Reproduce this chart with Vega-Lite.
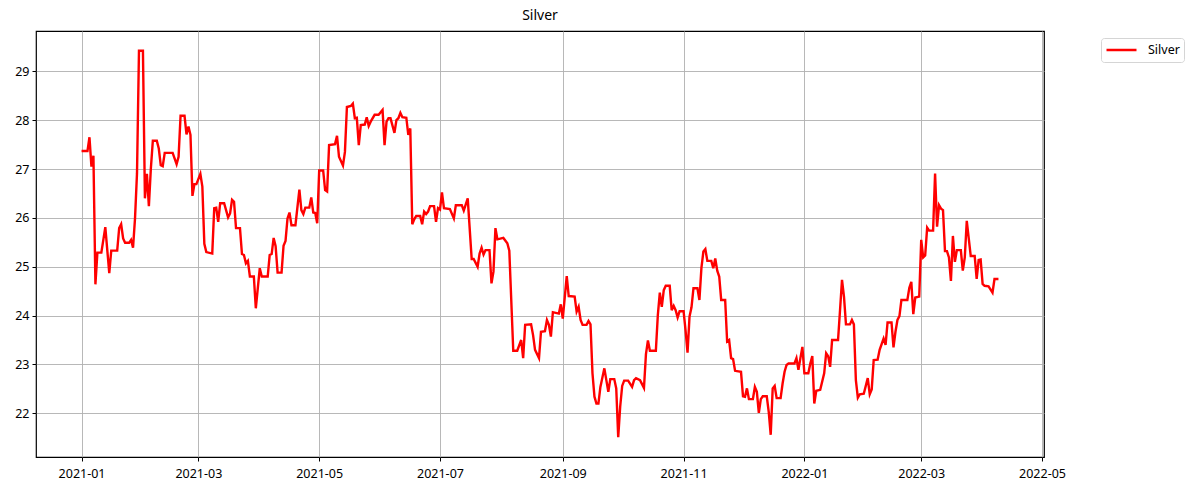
{
  "$schema": "https://vega.github.io/schema/vega-lite/v6.json",
  "width": 1008,
  "height": 426,
  "autosize": {"type": "none"},
  "padding": {"left": 36, "top": 31, "right": 149, "bottom": 33},
  "background": "white",
  "title": {"text": "Silver", "fontSize": 14, "fontWeight": "normal", "font": "Noto Sans", "color": "#000000", "anchor": "middle", "offset": 8},
  "config": {
    "view": {"stroke": "#000000", "strokeWidth": 1.2},
    "axis": {
      "domain": false,
      "grid": true,
      "gridColor": "#b0b0b0",
      "gridWidth": 0.9,
      "tickColor": "#000000",
      "tickSize": 4,
      "tickWidth": 1,
      "labelFont": "Noto Sans",
      "labelFontSize": 12.5,
      "labelColor": "#000000",
      "labelPadding": 3,
      "title": null
    },
    "axisX": {"labelPadding": 6},
    "legend": {
      "labelFont": "Noto Sans",
      "labelFontSize": 12.5,
      "labelColor": "#000000"
    }
  },
  "data": {
    "values": [
      {"date": "2021-01-01", "price": 27.37},
      {"date": "2021-01-04", "price": 27.37},
      {"date": "2021-01-05", "price": 27.65},
      {"date": "2021-01-06", "price": 27.05},
      {"date": "2021-01-07", "price": 27.27},
      {"date": "2021-01-08", "price": 24.64},
      {"date": "2021-01-09", "price": 25.29},
      {"date": "2021-01-11", "price": 25.29},
      {"date": "2021-01-13", "price": 25.81},
      {"date": "2021-01-15", "price": 24.87},
      {"date": "2021-01-16", "price": 25.33},
      {"date": "2021-01-19", "price": 25.33},
      {"date": "2021-01-20", "price": 25.79},
      {"date": "2021-01-21", "price": 25.87},
      {"date": "2021-01-22", "price": 25.58},
      {"date": "2021-01-23", "price": 25.49},
      {"date": "2021-01-25", "price": 25.49},
      {"date": "2021-01-26", "price": 25.55},
      {"date": "2021-01-27", "price": 25.39},
      {"date": "2021-01-28", "price": 25.99},
      {"date": "2021-01-29", "price": 26.91},
      {"date": "2021-01-30", "price": 29.42},
      {"date": "2021-02-01", "price": 29.42},
      {"date": "2021-02-02", "price": 26.40},
      {"date": "2021-02-03", "price": 26.90},
      {"date": "2021-02-04", "price": 26.24},
      {"date": "2021-02-05", "price": 27.01},
      {"date": "2021-02-06", "price": 27.58},
      {"date": "2021-02-08", "price": 27.58},
      {"date": "2021-02-09", "price": 27.42},
      {"date": "2021-02-10", "price": 27.08},
      {"date": "2021-02-11", "price": 27.06},
      {"date": "2021-02-12", "price": 27.33},
      {"date": "2021-02-16", "price": 27.33},
      {"date": "2021-02-18", "price": 27.10},
      {"date": "2021-02-19", "price": 27.25},
      {"date": "2021-02-20", "price": 28.09},
      {"date": "2021-02-22", "price": 28.09},
      {"date": "2021-02-23", "price": 27.71},
      {"date": "2021-02-24", "price": 27.87},
      {"date": "2021-02-25", "price": 27.70},
      {"date": "2021-02-26", "price": 26.45},
      {"date": "2021-02-27", "price": 26.69},
      {"date": "2021-02-28", "price": 26.69},
      {"date": "2021-03-02", "price": 26.90},
      {"date": "2021-03-03", "price": 26.64},
      {"date": "2021-03-04", "price": 25.47},
      {"date": "2021-03-05", "price": 25.30},
      {"date": "2021-03-08", "price": 25.27},
      {"date": "2021-03-09", "price": 26.20},
      {"date": "2021-03-10", "price": 26.21},
      {"date": "2021-03-11", "price": 25.92},
      {"date": "2021-03-12", "price": 26.30},
      {"date": "2021-03-14", "price": 26.30},
      {"date": "2021-03-16", "price": 26.01},
      {"date": "2021-03-17", "price": 26.09},
      {"date": "2021-03-18", "price": 26.37},
      {"date": "2021-03-19", "price": 26.33},
      {"date": "2021-03-20", "price": 25.79},
      {"date": "2021-03-22", "price": 25.79},
      {"date": "2021-03-23", "price": 25.26},
      {"date": "2021-03-24", "price": 25.24},
      {"date": "2021-03-25", "price": 25.07},
      {"date": "2021-03-26", "price": 25.12},
      {"date": "2021-03-27", "price": 24.80},
      {"date": "2021-03-29", "price": 24.80},
      {"date": "2021-03-30", "price": 24.15},
      {"date": "2021-04-01", "price": 24.97},
      {"date": "2021-04-02", "price": 24.80},
      {"date": "2021-04-05", "price": 24.80},
      {"date": "2021-04-06", "price": 25.24},
      {"date": "2021-04-07", "price": 25.26},
      {"date": "2021-04-08", "price": 25.59},
      {"date": "2021-04-09", "price": 25.42},
      {"date": "2021-04-10", "price": 24.88},
      {"date": "2021-04-12", "price": 24.88},
      {"date": "2021-04-13", "price": 25.43},
      {"date": "2021-04-14", "price": 25.53},
      {"date": "2021-04-15", "price": 25.99},
      {"date": "2021-04-16", "price": 26.11},
      {"date": "2021-04-17", "price": 25.85},
      {"date": "2021-04-19", "price": 25.85},
      {"date": "2021-04-21", "price": 26.58},
      {"date": "2021-04-22", "price": 26.16},
      {"date": "2021-04-23", "price": 26.08},
      {"date": "2021-04-24", "price": 26.21},
      {"date": "2021-04-26", "price": 26.21},
      {"date": "2021-04-27", "price": 26.42},
      {"date": "2021-04-28", "price": 26.11},
      {"date": "2021-04-29", "price": 26.10},
      {"date": "2021-04-30", "price": 25.89},
      {"date": "2021-05-01", "price": 26.97},
      {"date": "2021-05-03", "price": 26.97},
      {"date": "2021-05-04", "price": 26.57},
      {"date": "2021-05-05", "price": 26.54},
      {"date": "2021-05-06", "price": 27.49},
      {"date": "2021-05-09", "price": 27.51},
      {"date": "2021-05-10", "price": 27.68},
      {"date": "2021-05-11", "price": 27.25},
      {"date": "2021-05-13", "price": 27.07},
      {"date": "2021-05-14", "price": 27.35},
      {"date": "2021-05-15", "price": 28.27},
      {"date": "2021-05-17", "price": 28.29},
      {"date": "2021-05-18", "price": 28.34},
      {"date": "2021-05-19", "price": 28.04},
      {"date": "2021-05-20", "price": 28.05},
      {"date": "2021-05-21", "price": 27.49},
      {"date": "2021-05-22", "price": 27.90},
      {"date": "2021-05-24", "price": 27.91},
      {"date": "2021-05-25", "price": 28.06},
      {"date": "2021-05-26", "price": 27.88},
      {"date": "2021-05-27", "price": 27.97},
      {"date": "2021-05-29", "price": 28.11},
      {"date": "2021-05-31", "price": 28.11},
      {"date": "2021-06-02", "price": 28.21},
      {"date": "2021-06-03", "price": 27.49},
      {"date": "2021-06-04", "price": 27.97},
      {"date": "2021-06-05", "price": 28.04},
      {"date": "2021-06-06", "price": 28.04},
      {"date": "2021-06-08", "price": 27.74},
      {"date": "2021-06-09", "price": 28.00},
      {"date": "2021-06-10", "price": 28.04},
      {"date": "2021-06-11", "price": 28.15},
      {"date": "2021-06-12", "price": 28.06},
      {"date": "2021-06-14", "price": 28.05},
      {"date": "2021-06-15", "price": 27.70},
      {"date": "2021-06-16", "price": 27.83},
      {"date": "2021-06-17", "price": 25.87},
      {"date": "2021-06-18", "price": 25.97},
      {"date": "2021-06-19", "price": 26.04},
      {"date": "2021-06-21", "price": 26.04},
      {"date": "2021-06-22", "price": 25.87},
      {"date": "2021-06-23", "price": 26.13},
      {"date": "2021-06-24", "price": 26.08},
      {"date": "2021-06-25", "price": 26.13},
      {"date": "2021-06-26", "price": 26.24},
      {"date": "2021-06-28", "price": 26.24},
      {"date": "2021-06-29", "price": 25.92},
      {"date": "2021-06-30", "price": 26.20},
      {"date": "2021-07-01", "price": 26.17},
      {"date": "2021-07-02", "price": 26.52},
      {"date": "2021-07-03", "price": 26.20},
      {"date": "2021-07-06", "price": 26.18},
      {"date": "2021-07-08", "price": 25.99},
      {"date": "2021-07-09", "price": 26.26},
      {"date": "2021-07-12", "price": 26.26},
      {"date": "2021-07-13", "price": 26.15},
      {"date": "2021-07-15", "price": 26.40},
      {"date": "2021-07-17", "price": 25.16},
      {"date": "2021-07-18", "price": 25.16},
      {"date": "2021-07-20", "price": 25.00},
      {"date": "2021-07-21", "price": 25.27},
      {"date": "2021-07-22", "price": 25.39},
      {"date": "2021-07-23", "price": 25.25},
      {"date": "2021-07-24", "price": 25.34},
      {"date": "2021-07-26", "price": 25.34},
      {"date": "2021-07-27", "price": 24.66},
      {"date": "2021-07-28", "price": 24.90},
      {"date": "2021-07-29", "price": 25.79},
      {"date": "2021-07-30", "price": 25.56},
      {"date": "2021-08-02", "price": 25.59},
      {"date": "2021-08-04", "price": 25.48},
      {"date": "2021-08-05", "price": 25.33},
      {"date": "2021-08-07", "price": 23.28},
      {"date": "2021-08-09", "price": 23.28},
      {"date": "2021-08-11", "price": 23.50},
      {"date": "2021-08-12", "price": 23.13},
      {"date": "2021-08-13", "price": 23.81},
      {"date": "2021-08-16", "price": 23.82},
      {"date": "2021-08-17", "price": 23.60},
      {"date": "2021-08-18", "price": 23.30},
      {"date": "2021-08-20", "price": 23.13},
      {"date": "2021-08-21", "price": 23.67},
      {"date": "2021-08-23", "price": 23.68},
      {"date": "2021-08-24", "price": 23.91},
      {"date": "2021-08-25", "price": 23.81},
      {"date": "2021-08-26", "price": 23.57},
      {"date": "2021-08-27", "price": 24.07},
      {"date": "2021-08-30", "price": 24.04},
      {"date": "2021-08-31", "price": 24.23},
      {"date": "2021-09-01", "price": 23.94},
      {"date": "2021-09-03", "price": 24.81},
      {"date": "2021-09-04", "price": 24.40},
      {"date": "2021-09-07", "price": 24.39},
      {"date": "2021-09-08", "price": 24.08},
      {"date": "2021-09-09", "price": 24.18},
      {"date": "2021-09-10", "price": 23.91},
      {"date": "2021-09-11", "price": 23.81},
      {"date": "2021-09-13", "price": 23.81},
      {"date": "2021-09-14", "price": 23.89},
      {"date": "2021-09-15", "price": 23.82},
      {"date": "2021-09-16", "price": 22.82},
      {"date": "2021-09-17", "price": 22.34},
      {"date": "2021-09-18", "price": 22.20},
      {"date": "2021-09-19", "price": 22.20},
      {"date": "2021-09-20", "price": 22.54},
      {"date": "2021-09-22", "price": 22.92},
      {"date": "2021-09-23", "price": 22.68},
      {"date": "2021-09-24", "price": 22.44},
      {"date": "2021-09-25", "price": 22.70},
      {"date": "2021-09-27", "price": 22.70},
      {"date": "2021-09-28", "price": 22.51},
      {"date": "2021-09-29", "price": 21.51},
      {"date": "2021-09-30", "price": 22.14},
      {"date": "2021-10-01", "price": 22.56},
      {"date": "2021-10-02", "price": 22.67},
      {"date": "2021-10-04", "price": 22.67},
      {"date": "2021-10-06", "price": 22.54},
      {"date": "2021-10-07", "price": 22.68},
      {"date": "2021-10-08", "price": 22.72},
      {"date": "2021-10-10", "price": 22.68},
      {"date": "2021-10-12", "price": 22.52},
      {"date": "2021-10-13", "price": 23.21},
      {"date": "2021-10-14", "price": 23.49},
      {"date": "2021-10-15", "price": 23.28},
      {"date": "2021-10-18", "price": 23.28},
      {"date": "2021-10-19", "price": 24.01},
      {"date": "2021-10-20", "price": 24.47},
      {"date": "2021-10-21", "price": 24.18},
      {"date": "2021-10-22", "price": 24.52},
      {"date": "2021-10-23", "price": 24.61},
      {"date": "2021-10-25", "price": 24.61},
      {"date": "2021-10-26", "price": 24.11},
      {"date": "2021-10-27", "price": 24.20},
      {"date": "2021-10-28", "price": 24.11},
      {"date": "2021-10-29", "price": 23.96},
      {"date": "2021-10-30", "price": 24.09},
      {"date": "2021-11-01", "price": 24.09},
      {"date": "2021-11-02", "price": 23.70},
      {"date": "2021-11-03", "price": 23.24},
      {"date": "2021-11-04", "price": 23.98},
      {"date": "2021-11-05", "price": 24.17},
      {"date": "2021-11-06", "price": 24.56},
      {"date": "2021-11-08", "price": 24.56},
      {"date": "2021-11-09", "price": 24.32},
      {"date": "2021-11-10", "price": 24.97},
      {"date": "2021-11-11", "price": 25.31},
      {"date": "2021-11-12", "price": 25.36},
      {"date": "2021-11-13", "price": 25.12},
      {"date": "2021-11-15", "price": 25.12},
      {"date": "2021-11-16", "price": 24.97},
      {"date": "2021-11-17", "price": 25.17},
      {"date": "2021-11-18", "price": 24.92},
      {"date": "2021-11-19", "price": 24.80},
      {"date": "2021-11-20", "price": 24.32},
      {"date": "2021-11-22", "price": 24.32},
      {"date": "2021-11-23", "price": 23.47},
      {"date": "2021-11-24", "price": 23.50},
      {"date": "2021-11-25", "price": 23.13},
      {"date": "2021-11-26", "price": 23.11},
      {"date": "2021-11-27", "price": 22.87},
      {"date": "2021-11-30", "price": 22.85},
      {"date": "2021-12-01", "price": 22.35},
      {"date": "2021-12-02", "price": 22.34},
      {"date": "2021-12-03", "price": 22.51},
      {"date": "2021-12-04", "price": 22.29},
      {"date": "2021-12-06", "price": 22.29},
      {"date": "2021-12-07", "price": 22.54},
      {"date": "2021-12-08", "price": 22.44},
      {"date": "2021-12-09", "price": 22.01},
      {"date": "2021-12-10", "price": 22.29},
      {"date": "2021-12-11", "price": 22.35},
      {"date": "2021-12-13", "price": 22.35},
      {"date": "2021-12-14", "price": 22.03},
      {"date": "2021-12-15", "price": 21.56},
      {"date": "2021-12-16", "price": 22.51},
      {"date": "2021-12-17", "price": 22.56},
      {"date": "2021-12-18", "price": 22.31},
      {"date": "2021-12-20", "price": 22.31},
      {"date": "2021-12-21", "price": 22.61},
      {"date": "2021-12-22", "price": 22.85},
      {"date": "2021-12-23", "price": 22.99},
      {"date": "2021-12-24", "price": 23.02},
      {"date": "2021-12-27", "price": 23.02},
      {"date": "2021-12-28", "price": 23.13},
      {"date": "2021-12-29", "price": 22.89},
      {"date": "2021-12-30", "price": 23.13},
      {"date": "2021-12-31", "price": 23.36},
      {"date": "2022-01-01", "price": 22.82},
      {"date": "2022-01-03", "price": 22.82},
      {"date": "2022-01-04", "price": 23.02},
      {"date": "2022-01-05", "price": 23.17},
      {"date": "2022-01-06", "price": 22.20},
      {"date": "2022-01-07", "price": 22.46},
      {"date": "2022-01-09", "price": 22.48},
      {"date": "2022-01-11", "price": 22.82},
      {"date": "2022-01-12", "price": 23.23},
      {"date": "2022-01-13", "price": 23.17},
      {"date": "2022-01-14", "price": 22.95},
      {"date": "2022-01-15", "price": 23.50},
      {"date": "2022-01-18", "price": 23.50},
      {"date": "2022-01-19", "price": 24.11},
      {"date": "2022-01-20", "price": 24.73},
      {"date": "2022-01-21", "price": 24.39},
      {"date": "2022-01-22", "price": 23.82},
      {"date": "2022-01-24", "price": 23.82},
      {"date": "2022-01-25", "price": 23.91},
      {"date": "2022-01-26", "price": 23.82},
      {"date": "2022-01-27", "price": 22.68},
      {"date": "2022-01-28", "price": 22.32},
      {"date": "2022-01-29", "price": 22.39},
      {"date": "2022-01-31", "price": 22.40},
      {"date": "2022-02-02", "price": 22.72},
      {"date": "2022-02-03", "price": 22.39},
      {"date": "2022-02-04", "price": 22.49},
      {"date": "2022-02-05", "price": 23.09},
      {"date": "2022-02-07", "price": 23.10},
      {"date": "2022-02-08", "price": 23.30},
      {"date": "2022-02-10", "price": 23.53},
      {"date": "2022-02-11", "price": 23.40},
      {"date": "2022-02-12", "price": 23.86},
      {"date": "2022-02-14", "price": 23.86},
      {"date": "2022-02-15", "price": 23.35},
      {"date": "2022-02-16", "price": 23.67},
      {"date": "2022-02-17", "price": 23.91},
      {"date": "2022-02-18", "price": 23.99},
      {"date": "2022-02-19", "price": 24.32},
      {"date": "2022-02-22", "price": 24.32},
      {"date": "2022-02-23", "price": 24.57},
      {"date": "2022-02-24", "price": 24.69},
      {"date": "2022-02-25", "price": 24.03},
      {"date": "2022-02-26", "price": 24.37},
      {"date": "2022-02-28", "price": 24.39},
      {"date": "2022-03-01", "price": 25.55},
      {"date": "2022-03-02", "price": 25.19},
      {"date": "2022-03-03", "price": 25.23},
      {"date": "2022-03-04", "price": 25.80},
      {"date": "2022-03-05", "price": 25.74},
      {"date": "2022-03-07", "price": 25.74},
      {"date": "2022-03-08", "price": 26.91},
      {"date": "2022-03-09", "price": 25.82},
      {"date": "2022-03-10", "price": 26.26},
      {"date": "2022-03-11", "price": 26.19},
      {"date": "2022-03-12", "price": 26.16},
      {"date": "2022-03-13", "price": 25.32},
      {"date": "2022-03-14", "price": 25.32},
      {"date": "2022-03-15", "price": 25.19},
      {"date": "2022-03-16", "price": 24.71},
      {"date": "2022-03-17", "price": 25.63},
      {"date": "2022-03-18", "price": 25.10},
      {"date": "2022-03-19", "price": 25.34},
      {"date": "2022-03-21", "price": 25.34},
      {"date": "2022-03-22", "price": 24.92},
      {"date": "2022-03-23", "price": 25.19},
      {"date": "2022-03-24", "price": 25.94},
      {"date": "2022-03-25", "price": 25.58},
      {"date": "2022-03-26", "price": 25.22},
      {"date": "2022-03-28", "price": 25.22},
      {"date": "2022-03-29", "price": 24.75},
      {"date": "2022-03-30", "price": 25.14},
      {"date": "2022-03-31", "price": 25.15},
      {"date": "2022-04-01", "price": 24.65},
      {"date": "2022-04-02", "price": 24.61},
      {"date": "2022-04-04", "price": 24.60},
      {"date": "2022-04-06", "price": 24.47},
      {"date": "2022-04-07", "price": 24.75},
      {"date": "2022-04-09", "price": 24.75}
    ]
  },
  "mark": {"type": "line", "strokeWidth": 2.4, "strokeJoin": "miter", "clip": true},
  "encoding": {
    "x": {
      "field": "date",
      "type": "temporal",
      "scale": {
        "type": "utc",
        "domain": [
          {"year": 2020, "month": 12, "date": 9, "utc": true},
          {"year": 2022, "month": 5, "date": 2, "utc": true}
        ]
      },
      "axis": {"format": "%Y-%m", "tickCount": {"interval": "month", "step": 2}, "labelFlush": false, "labelOverlap": false}
    },
    "y": {
      "field": "price",
      "type": "quantitative",
      "scale": {"domain": [21.106, 29.825], "zero": false, "nice": false},
      "axis": {"values": [22, 23, 24, 25, 26, 27, 28, 29]}
    },
    "color": {
      "datum": "Silver",
      "type": "nominal",
      "scale": {"domain": ["Silver"], "range": ["#ff0000"]},
      "legend": {
        "title": null,
        "orient": "none",
        "legendX": 1065,
        "legendY": 7,
        "symbolType": "stroke",
        "symbolSize": 900,
        "symbolStrokeWidth": 2.5,
        "symbolStrokeColor": "#ff0000",
        "clipHeight": 16,
        "labelOffset": 10,
        "padding": 4,
        "strokeColor": "#d5d5d5",
        "fillColor": "#ffffff",
        "cornerRadius": 3
      }
    }
  }
}
